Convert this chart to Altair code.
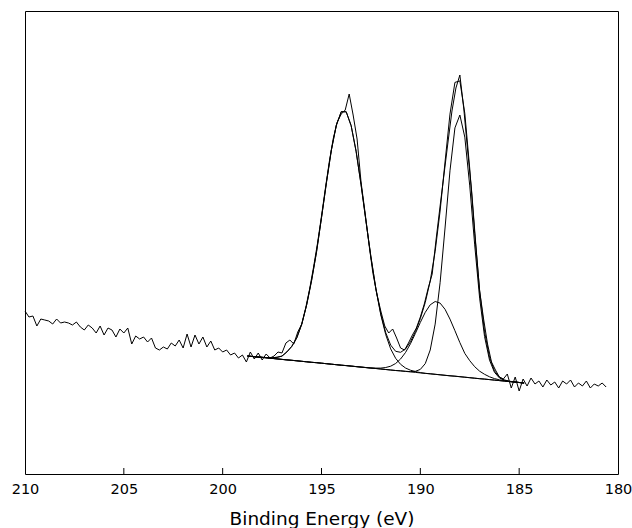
import altair as alt
import pandas as pd

# ---- measured spectrum (binding energy grid 210.0 -> 180.6, step 0.2 eV) ----
RAW_START = 210.0
RAW_STEP = 0.2
raw_counts = [
    163, 157, 158, 148, 155, 154, 153, 150, 155, 151,
    152, 151, 149, 152, 147, 144, 149, 146, 141, 148,
    139, 146, 144, 137, 145, 141, 146, 130, 138, 135,
    137, 132, 136, 126, 124, 127, 125, 131, 128, 134,
    126, 140, 127, 139, 130, 137, 127, 133, 124, 126,
    122, 124, 119, 121, 116, 119, 112, 122, 115, 121,
    114, 120, 116, 118, 122, 121, 131, 134, 130, 142,
    150, 166, 185, 207, 231, 258, 286, 313, 336, 352,
    360, 364, 380, 359, 335, 292, 262, 230, 201, 180,
    163, 148, 141, 145, 136, 126, 124, 131, 139, 146,
    157, 170, 186, 200, 235, 268, 300, 332, 363, 386,
    399, 365, 322, 282, 231, 183, 155, 130, 112, 104,
    97, 95, 100, 86, 97, 83, 95, 88, 96, 90,
    93, 87, 94, 89, 92, 86, 93, 90, 94, 87,
    91, 88, 93, 86, 90, 88, 91, 87,
]

# ---- fit curves (grid 198.75 -> 184.75, step 0.25 eV) ----
FIT_START = 198.75
FIT_STEP = 0.25
baseline = [
    118.0, 117.5, 117.0, 116.6, 116.1, 115.6, 115.1, 114.6, 114.1, 113.7,
    113.2, 112.7, 112.2, 111.7, 111.3, 110.8, 110.3, 109.8, 109.3, 108.8,
    108.4, 107.9, 107.4, 106.9, 106.4, 105.9, 105.5, 105.0, 104.5, 104.0,
    103.5, 103.1, 102.6, 102.1, 101.6, 101.1, 100.6, 100.2, 99.7, 99.2,
    98.7, 98.2, 97.8, 97.3, 96.8, 96.3, 95.8, 95.3, 94.9, 94.4,
    93.9, 93.4, 92.9, 92.4, 92.0, 91.5, 91.0,
]
peak1 = [
    0, 0, 0.1, 0.1, 0.3, 0.7, 1.6, 3.3, 8, 14,
    23, 37, 57, 82, 111, 145.5, 181.2, 214.2, 239.6, 253.5,
    253.8, 240.4, 215.4, 182.6, 146.4, 111.1, 79.7, 54.1, 34.8, 21.1,
    12.2, 6.6, 3.4, 1.7, 0.8, 0.3, 0.1, 0,
] + [0] * 19
peak2 = [0] * 23 + [
    0.05, 0.1, 0.2, 0.4, 0.9, 2.0, 3.8, 7.0, 11.9, 18.9,
    28.1, 39.0, 50.5, 61.1, 69.0, 72.8, 71.7, 66.0, 56.7, 45.5,
    34.1, 23.8, 17.0, 11.5, 7.5, 4.8, 2.8, 1.5, 0.8, 0.4,
    0.2, 0.1, 0, 0,
]
peak3 = [0] * 31 + [
    0.1, 0.1, 0.3, 1.1, 3.5, 9.8, 23.8, 50.2, 92.1, 147.3,
    205.0, 248.3, 261.7, 240.1, 191.8, 133.3, 80.6, 42.5, 19.5, 7.8,
    2.7, 0.8, 0.2, 0.05, 0, 0,
]

tick_values = [210, 205, 200, 195, 190, 185, 180]

rows = []
for i, v in enumerate(raw_counts):
    rows.append({"be": round(RAW_START - RAW_STEP * i, 2), "cps": v, "series": "raw"})
n = min(len(baseline), len(peak1), len(peak2), len(peak3))
for i in range(n):
    e = round(FIT_START - FIT_STEP * i, 2)
    b = baseline[i]
    rows.append({"be": e, "cps": b, "series": "baseline"})
    rows.append({"be": e, "cps": b + peak1[i], "series": "p1"})
    rows.append({"be": e, "cps": b + peak2[i], "series": "p2"})
    rows.append({"be": e, "cps": b + peak3[i], "series": "p3"})
    rows.append({"be": e, "cps": b + peak1[i] + peak2[i] + peak3[i], "series": "envelope"})
df = pd.DataFrame(rows)

W, H = 593, 463
xscale = alt.Scale(domain=[210, 180], nice=False, zero=False)
yscale = alt.Scale(domain=[0, 463], nice=False, zero=True)

xaxis = alt.Axis(
    values=tick_values,
    format="d",
    grid=False,
    domain=False,
    ticks=False,
    tickSize=0,
    labelFlush=False,
    labelFont="DejaVu Sans",
    labelFontSize=14.5,
    labelColor="black",
    labelPadding=8,
    labelOverlap=False,
    title="Binding Energy (eV)",
    titleFont="DejaVu Sans",
    titleFontSize=18.5,
    titleFontWeight="normal",
    titleColor="black",
    titleBaseline="alphabetic",
    titleY=50,
)

lines = alt.Chart(df).mark_line(color="black", strokeWidth=1).encode(
    x=alt.X("be:Q", scale=xscale, axis=xaxis),
    y=alt.Y("cps:Q", scale=yscale, axis=None),
    detail="series:N",
)

ticks_df = pd.DataFrame({"be": tick_values[1:-1]})
ticks = alt.Chart(ticks_df).mark_rule(color="black", strokeWidth=1).encode(
    x=alt.X("be:Q", scale=xscale),
    y=alt.value(H),
    y2=alt.value(H - 6),
)

chart = alt.layer(lines, ticks).properties(
    width=W,
    height=H,
    autosize=alt.AutoSizeParams(type="none"),
    padding={"left": 25, "top": 11, "right": 14, "bottom": 54},
    background="white",
).configure_view(stroke="black", strokeWidth=1)

chart.save("out.html", embed_options={"renderer": "svg", "actions": False})
